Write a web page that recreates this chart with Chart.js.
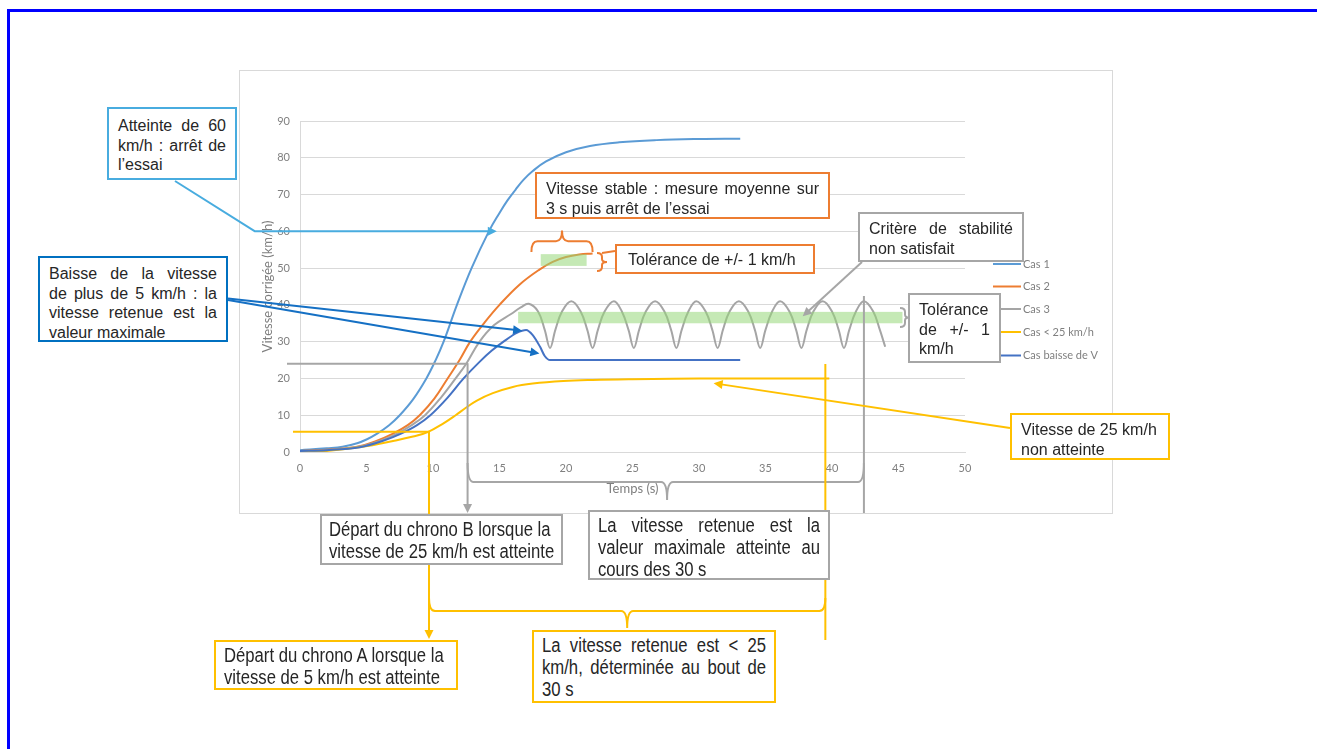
<!DOCTYPE html>
<html><head><meta charset="utf-8">
<script src="https://cdn.jsdelivr.net/npm/chart.js@4"></script>
<style>
html,body{margin:0;padding:0;background:#fff;}
#wrap{position:relative;width:1317px;height:749px;overflow:hidden;background:#fff;}
#c{position:absolute;left:0;top:0;}
.frame{position:absolute;left:7px;top:9px;width:2000px;height:2000px;border-top:3px solid #0000FF;border-left:3px solid #0000FF;}
.box{position:absolute;box-sizing:border-box;background:#fff;border:2px solid;color:#262626;font-family:'Liberation Sans',Arial,sans-serif;font-size:16px;line-height:19.5px;overflow:hidden;}
.box span{display:block;white-space:nowrap;}
.box span.j{text-align:justify;text-align-last:justify;white-space:normal;}
.box.narrow{font-size:19.4px;line-height:22px;}
.box.narrow .in{transform-origin:0 0;}
</style></head>
<body>
<div id="wrap">
<canvas id="c" width="1317" height="749"></canvas>
<div class="frame"></div>
</div>
<script>
// ---------- data ----------
const seriesNames = ['Cas 1','Cas 2','Cas 3','Cas < 25 km/h','Cas baisse de V'];
const seriesColors = ['#5B9BD5','#ED7D31','#A5A5A5','#FFC000','#4472C4'];
const xTitle = 'Temps (s)';
const yTitle = 'Vitesse corrigée (km/h)';

const cas1T = [0,2,3.2,4.3,5.0,5.8,6.7,7.5,8.5,9.5,10.2,10.8,11.8,12.9,14.2,15.0,15.6,16.2,16.8,17.5,18.5,20,21.8,24,26.8,30,33.1];
const cas1V = [0.5,1.0,1.4,2.4,3.4,5,7.3,10,14.3,20,25,30,40,50,60,65,68.4,71.3,74,76.4,79,81.5,83.2,84.2,84.8,85.1,85.2];

const cas2T = [0,2,4.3,5.6,7.0,8.1,9.0,10.1,11.1,12.0,12.8,13.9,15.0,16.5,18.0,19.0,20.0,21.0,22.0];
const cas2V = [0.3,0.6,1.4,2.8,5,7.3,10,14.5,20,25,30,35.3,40,45.5,49.6,51.7,53.0,53.7,54.0];

const cas3T = [0,2,4.5,6,7.3,8.4,9.4,10.6,11.7,12.5,13.5,14.6,15.9,16.6,17.2,
  17.9,18.4,18.8,19.2,19.7,20.4,21.1,21.6,22.0,22.4,22.9,23.6,24.2,24.7,25.1,25.5,26.0,26.7,
  27.4,27.9,28.3,28.7,29.2,29.8,30.5,31.0,31.4,31.8,32.3,33.0,33.7,34.2,34.6,35.0,35.5,36.1,
  36.8,37.3,37.7,38.1,38.6,39.3,40.0,40.5,40.9,41.3,41.8,42.4,43.1,43.6,44.0];
const cas3V = [0.3,0.5,1.5,3,5,7.3,10,14.8,20,24,30,34.5,37.6,39.3,40.3,
  38.2,33.2,28.3,33.2,38.2,41.0,38.2,33.2,28.3,33.2,38.2,41.0,38.2,33.2,28.3,33.2,38.2,41.0,
  38.2,33.2,28.3,33.2,38.2,41.0,38.2,33.2,28.3,33.2,38.2,41.0,38.2,33.2,28.3,33.2,38.2,41.0,
  38.2,33.2,28.3,33.2,38.2,41.0,38.2,33.2,28.3,33.2,38.2,41.0,38.2,33.2,28.6];

const cas25T = [0,2,4.7,7.0,8.5,9.6,10.7,11.7,12.5,13.3,14.5,16.0,17.5,19.8,22,25,28,32,36,39.8];
const cas25V = [0.1,0.3,1.4,3,4.2,5.4,7.6,10,12.1,14,16,17.7,18.6,19.3,19.6,19.8,19.9,20,20,20];

const casBT = [0,2,4.5,6.2,7.6,8.8,9.8,11.1,12.3,13.5,14.4,15.3,16.3,17.0,17.5,18.05,18.4,18.8,20,25,33.1];
const casBV = [0.3,0.5,1.3,3,5,7.3,10,14.8,20,24.5,27.5,30,32.4,33.2,31.8,28.6,26.1,25,25,25,25];

const xTicks = {min:0,max:50,step:5};
const yTicks = {min:0,max:90,step:10};

const seriesT = [cas1T,cas2T,cas3T,cas25T,casBT];
const seriesV = [cas1V,cas2V,cas3V,cas25V,casBV];

// ---------- callout boxes (layout) ----------
const boxes = [
 {x:107,y:107,w:130,h:73,c:'#48ACDF',pad:[7,9],lines:[['Atteinte de 60',1],['km/h : arrêt de',1],['l’essai',0]]},
 {x:38,y:256,w:190,h:86,c:'#0070C0',pad:[6,9],lines:[['Baisse de la vitesse',1],['de plus de 5 km/h : la',1],['vitesse retenue est la',1],['valeur maximale',0]]},
 {x:535,y:172,w:295,h:47,c:'#ED7D31',pad:[5,9],lines:[['Vitesse stable : mesure moyenne sur',1],['3 s puis arrêt de l’essai',0]]},
 {x:615,y:244,w:200,h:30,c:'#ED7D31',pad:[4,11],lines:[['Tolérance de +/- 1 km/h',0]]},
 {x:858,y:212,w:166,h:50,c:'#A6A6A6',pad:[5,9],lines:[['Critère de stabilité',1],['non satisfait',0]]},
 {x:908,y:293,w:93,h:70,c:'#A6A6A6',pad:[5,9],lines:[['Tolérance',0],['de +/- 1',1],['km/h',0]]},
 {x:1010,y:413,w:160,h:47,c:'#FFC000',pad:[5,9],lines:[['Vitesse de 25 km/h',0],['non atteinte',0]]},
 {x:320,y:514,w:243,h:51,c:'#A6A6A6',pad:[2,7],narrow:1,lines:[['Départ du chrono B lorsque la',0],['vitesse de 25 km/h est atteinte',0]]},
 {x:588,y:510,w:242,h:70,c:'#A6A6A6',pad:[2,8],narrow:1,lines:[['La vitesse retenue est la',1],['valeur maximale atteinte au',1],['cours des 30 s',0]]},
 {x:214,y:640,w:244,h:50,c:'#FFC000',pad:[2,8],narrow:1,lines:[['Départ du chrono A lorsque la',0],['vitesse de 5 km/h est atteinte',0]]},
 {x:532,y:630,w:244,h:73,c:'#FFC000',pad:[2,8],narrow:1,lines:[['La vitesse retenue est < 25',1],['km/h, déterminée au bout de',1],['30 s',0]]}
];
const NARROW = 0.86;
const wrap = document.getElementById('wrap');
boxes.forEach(b=>{
  const d=document.createElement('div');
  d.className='box'+(b.narrow?' narrow':'');
  Object.assign(d.style,{left:b.x+'px',top:b.y+'px',width:b.w+'px',height:b.h+'px',borderColor:b.c,padding:b.pad[0]+'px '+b.pad[1]+'px'});
  let host=d;
  if(b.narrow){
    const inner=document.createElement('div');inner.className='in';
    const iw=b.w-4-2*b.pad[1];
    inner.style.width=(iw/NARROW)+'px';inner.style.transform='scaleX('+NARROW+')';
    d.appendChild(inner);host=inner;
  }
  b.lines.forEach(l=>{const s=document.createElement('span');if(l[1])s.className='j';s.textContent=l[0];host.appendChild(s);});
  wrap.appendChild(d);
});

// ---------- drawing helpers ----------
function line(ctx,pts){ctx.beginPath();ctx.moveTo(pts[0][0],pts[0][1]);for(let i=1;i<pts.length;i++)ctx.lineTo(pts[i][0],pts[i][1]);ctx.stroke();}
function head(ctx,from,to,len=9,hw=4.5){
  const a=Math.atan2(to[1]-from[1],to[0]-from[0]);
  ctx.beginPath();ctx.moveTo(to[0],to[1]);
  ctx.lineTo(to[0]-len*Math.cos(a)+hw*Math.sin(a),to[1]-len*Math.sin(a)-hw*Math.cos(a));
  ctx.lineTo(to[0]-len*Math.cos(a)-hw*Math.sin(a),to[1]-len*Math.sin(a)+hw*Math.cos(a));
  ctx.closePath();ctx.fill();
}
function arrowPoly(ctx,pts,color){
  ctx.strokeStyle=color;ctx.fillStyle=color;
  const n=pts.length;const a=pts[n-2],b=pts[n-1];
  const ang=Math.atan2(b[1]-a[1],b[0]-a[0]);
  const p=pts.slice(0,n-1).concat([[b[0]-6*Math.cos(ang),b[1]-6*Math.sin(ang)]]);
  line(ctx,p);head(ctx,a,b);
}
function brace(ctx,x1,x2,xm,yEnd,yBar,yTip,color){
  ctx.strokeStyle=color;
  const r=Math.min(6,Math.abs(yBar-yEnd));
  ctx.beginPath();
  ctx.moveTo(x1,yEnd);ctx.quadraticCurveTo(x1,yBar,x1+r,yBar);ctx.lineTo(xm-r,yBar);ctx.quadraticCurveTo(xm,yBar,xm,yTip);
  ctx.moveTo(x2,yEnd);ctx.quadraticCurveTo(x2,yBar,x2-r,yBar);ctx.lineTo(xm+r,yBar);ctx.quadraticCurveTo(xm,yBar,xm,yTip);
  ctx.stroke();
}
function vbrace(ctx,xl,xb,xt,y1,y2,color){
  ctx.strokeStyle=color;const ym=(y1+y2)/2;
  ctx.beginPath();
  ctx.moveTo(xl,y1);ctx.quadraticCurveTo(xb,y1,xb,y1+4);ctx.lineTo(xb,ym-3);ctx.quadraticCurveTo(xb,ym,xt,ym);
  ctx.moveTo(xl,y2);ctx.quadraticCurveTo(xb,y2,xb,y2-4);ctx.lineTo(xb,ym+3);ctx.quadraticCurveTo(xb,ym,xt,ym);
  ctx.stroke();
}

const deco={
  id:'deco',
  beforeDraw(chart){
    const ctx=chart.ctx;ctx.save();
    ctx.fillStyle='#fff';ctx.fillRect(0,0,chart.width,chart.height);
    ctx.strokeStyle='#D9D9D9';ctx.lineWidth=1;ctx.strokeRect(239.5,70.5,873,443);
    ctx.restore();
  },
  afterDatasetsDraw(chart){
    const ctx=chart.ctx;const X=v=>chart.scales.x.getPixelForValue(v);const Y=v=>chart.scales.y.getPixelForValue(v);
    ctx.save();ctx.lineWidth=2;ctx.lineJoin='round';ctx.lineCap='butt';
    ctx.fillStyle='rgba(150,215,120,0.55)';
    ctx.fillRect(X(18.1),Y(53.8),X(21.55)-X(18.1),Y(50.6)-Y(53.8));
    ctx.fillRect(X(16.4),Y(38.1),X(45.3)-X(16.4),Y(35.0)-Y(38.1));
    arrowPoly(ctx,[[175,181],[255,Y(60)],[X(14.8),Y(60)]],'#48ACDF');
    arrowPoly(ctx,[[228,298.5],[X(16.7),Y(33.0)]],'#1570C4');
    arrowPoly(ctx,[[228,300],[X(18.0),Y(26.8)]],'#1570C4');
    brace(ctx,X(17.4),X(22.0),X(19.7),Y(54.4),Y(57.3),Y(60.2),'#ED7D31');
    vbrace(ctx,597,602,607,253,271,'#ED7D31');
    ctx.strokeStyle='#ED7D31';line(ctx,[[602,253],[615,251]]);
    const G='#A6A6A6';
    arrowPoly(ctx,[[862,262],[X(37.8),Y(36.9)]],G);
    vbrace(ctx,900,905,909,308,327,G);
    ctx.strokeStyle=G;
    line(ctx,[[287,Y(24)],[X(12.6),Y(24)],[X(12.6),506]]);
    ctx.fillStyle=G;head(ctx,[X(12.6),500],[X(12.6),513]);
    line(ctx,[[X(42.4),296],[X(42.4),513]]);
    brace(ctx,X(12.6),X(42.4),X(27.6),463,482,500,G);
    const O='#FFC000';
    ctx.strokeStyle=O;
    line(ctx,[[293,Y(5.5)],[X(9.7),Y(5.5)],[X(9.7),632]]);
    ctx.fillStyle=O;head(ctx,[X(9.7),620],[X(9.7),639]);
    line(ctx,[[X(39.5),364],[X(39.5),640]]);
    brace(ctx,X(9.7),X(39.5),X(24.6),598,611,628,O);
    arrowPoly(ctx,[[1010,428],[X(31.1),Y(18.7)]],O);
    ctx.restore();
  },
  afterDraw(chart){
    const ctx=chart.ctx;ctx.save();
    const rows=[264,286.5,309,332,355.5];
    chart.data.datasets.forEach((ds,i)=>{
      ctx.strokeStyle=ds.borderColor;ctx.lineWidth=2;line(ctx,[[993,rows[i]],[1021,rows[i]]]);
      ctx.fillStyle='#7F7F7F';ctx.font='11px Lato';ctx.textBaseline='middle';ctx.textAlign='left';
      ctx.fillText(ds.label,1023,rows[i]);
    });
    ctx.restore();
  }
};

const datasets = seriesNames.map((n,i)=>{
  const ds={
    label:n,
    data:seriesT[i].map((t,k)=>({x:t,y:seriesV[i][k]})),
    borderColor:seriesColors[i],backgroundColor:seriesColors[i],
    borderWidth:2,pointRadius:0,fill:false,tension:0.4,order:4-i
  };
  if(i===4){ds.cubicInterpolationMode='monotone';}
  return ds;
});

const tickFont={family:'Lato',size:11};
const titleFont={family:'Lato',size:13};
new Chart(document.getElementById('c'),{
  type:'line',
  data:{datasets},
  plugins:[deco],
  options:{
    responsive:false,animation:false,devicePixelRatio:1,
    layout:{padding:{left:240,right:352,top:121,bottom:252}},
    plugins:{legend:{display:false},tooltip:{enabled:false}},
    scales:{
      x:{type:'linear',min:xTicks.min,max:xTicks.max,
         ticks:{stepSize:xTicks.step,color:'#808080',font:tickFont,padding:10,maxRotation:0},
         grid:{display:false,drawTicks:false},border:{color:'#D9D9D9',width:1},
         title:{display:true,text:xTitle,color:'#7F7F7F',font:titleFont,padding:{top:0,bottom:0}},
         afterFit(s){s.height=45;}},
      y:{min:yTicks.min,max:yTicks.max,
         ticks:{stepSize:yTicks.step,color:'#808080',font:tickFont,padding:10},
         grid:{color:'#D9D9D9',drawTicks:false},border:{color:'#D9D9D9',width:1},
         title:{display:true,text:yTitle,color:'#7F7F7F',font:titleFont,padding:{top:20,bottom:0}},
         afterFit(s){s.width=60;}}
    }
  }
});
</script>
</body></html>
